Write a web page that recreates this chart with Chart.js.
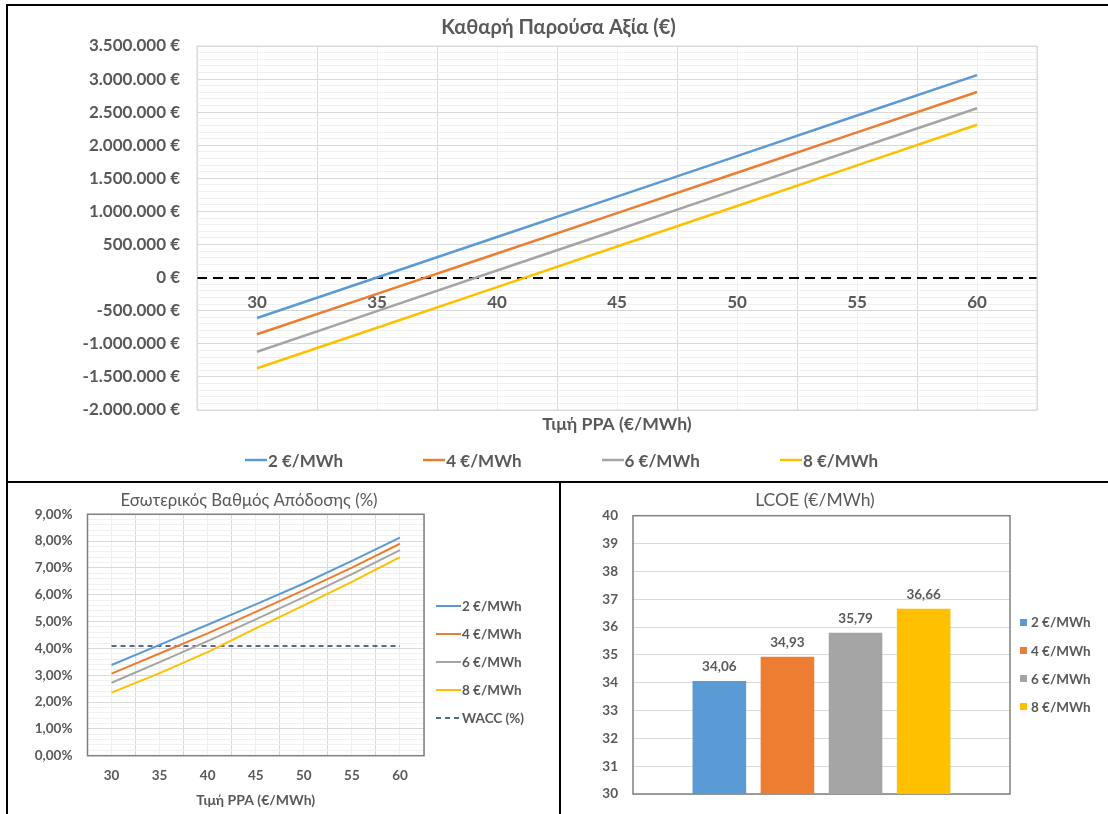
<!DOCTYPE html>
<html>
<head>
<meta charset="utf-8">
<script src="https://cdn.jsdelivr.net/npm/chart.js@4.4.1/dist/chart.umd.min.js"></script>
<style>
html,body{margin:0;padding:0;background:#fff;}
#wrap{position:relative;width:1108px;height:814px;overflow:hidden;background:#fff;font-family:Lato,'Noto Sans',sans-serif;color:#595959;}
canvas{position:absolute;}
.rule{position:absolute;background:#000;}
.li{position:absolute;display:flex;align-items:center;white-space:nowrap;font-weight:700;color:#595959;}
.li svg{display:block;flex:none;}
</style>
</head>
<body>
<div id="wrap">
  <canvas id="npv" width="1100" height="475" style="left:8px;top:6px"></canvas>
  <canvas id="irr" width="551" height="331" style="left:8px;top:483px"></canvas>
  <canvas id="lcoe" width="547" height="331" style="left:561px;top:483px"></canvas>
  <div class="rule" style="left:6px;top:4px;width:1102px;height:2px"></div>
  <div class="rule" style="left:6px;top:4px;width:2px;height:810px"></div>
  <div class="rule" style="left:6px;top:481px;width:1102px;height:2px"></div>
  <div class="rule" style="left:559px;top:481px;width:2px;height:333px"></div>
  <div id="npvLegend"></div>
  <div id="irrLegend"></div>
  <div id="lcoeLegend"></div>
</div>
<script>
// ---------- DATA ----------
const ppaPrices = [30, 35, 40, 45, 50, 55, 60];            // Τιμή PPA (€/MWh)
const seriesLabels = ['2 €/MWh', '4 €/MWh', '6 €/MWh', '8 €/MWh'];

// Καθαρή Παρούσα Αξία (€)
const npv2 = [-610000, 2000, 614000, 1225000, 1837000, 2449000, 3060000];
const npv4 = [-855000, -245000, 365000, 975000, 1585000, 2195000, 2805000];
const npv6 = [-1120000, -507000, 107000, 720000, 1333000, 1947000, 2560000];
const npv8 = [-1370000, -757000, -143000, 470000, 1083000, 1697000, 2310000];

// Εσωτερικός Βαθμός Απόδοσης (%)
const irr2 = [3.38, 4.13, 4.88, 5.64, 6.42, 7.26, 8.13];
const irr4 = [3.06, 3.81, 4.56, 5.36, 6.17, 7.01, 7.90];
const irr6 = [2.72, 3.49, 4.27, 5.08, 5.91, 6.77, 7.66];
const irr8 = [2.35, 3.08, 3.86, 4.75, 5.60, 6.48, 7.40];
const waccLabel = 'WACC (%)';
const wacc = [4.09, 4.09, 4.09, 4.09, 4.09, 4.09, 4.09];

// LCOE (€/MWh)
const lcoeValues = [34.06, 34.93, 35.79, 36.66];

// Axis ticks
const ppaTickLabels = [30, 35, 40, 45, 50, 55, 60];
const npvMin = -2000000, npvMax = 3500000, npvMajor = 500000, npvMinor = 100000;
const irrMin = 0, irrMax = 9, irrMajor = 1, irrMinor = 0.2;
const lcoeMin = 30, lcoeMax = 40, lcoeStep = 1;

// ---------- STYLE ----------
const FONT = "Lato, 'Noto Sans', sans-serif";
const GRAY = '#595959';
const COLORS = ['#5B9BD5', '#ED7D31', '#A5A5A5', '#FFC000'];
const WACC_COLOR = '#203864';
Chart.defaults.font.family = FONT;
Chart.defaults.color = GRAY;
Chart.defaults.animation = false;

function range(a, b, step) {
  const out = []; const n = Math.round((b - a) / step);
  for (let i = 0; i <= n; i++) out.push(+(a + i * step).toFixed(6));
  return out;
}
function isMult(v, m) { const q = v / m; return Math.abs(q - Math.round(q)) < 1e-6; }
function fmtEuro(v) {
  const s = Math.abs(v).toString().replace(/\B(?=(\d{3})+(?!\d))/g, '.');
  return (v < 0 ? '-' : '') + s + ' €';
}
function toPoints(vals) { return ppaPrices.map((p, i) => ({x: p, y: vals[i]})); }
const xMin = ppaPrices[0] - 2.5, xMax = ppaPrices[ppaPrices.length - 1] + 2.5;
const xTickValues = range(xMin, xMax, 2.5);
const xLabelCb = v => (ppaTickLabels.includes(v) ? String(v) : '');
const xGridColor = c => (c.tick && ppaTickLabels.includes(c.tick.value)) ? '#eeeeee' : '#d9d9d9';
// empty right-hand spacer axis (keeps the title centred like the original)
const spacer = w => ({position: 'right', afterFit: s => { s.width = w; },
  ticks: {display: false}, grid: {display: false, drawTicks: false}, border: {display: false}});

const plotBorder = {
  id: 'plotBorder',
  beforeDatasetsDraw(chart, args, opts) {
    const {left, top, right, bottom} = chart.chartArea;
    const ctx = chart.ctx;
    ctx.save(); ctx.strokeStyle = opts.color; ctx.lineWidth = opts.width;
    ctx.strokeRect(left, top, right - left, bottom - top); ctx.restore();
  }
};

const barLabels = {
  id: 'barLabels',
  afterDatasetsDraw(chart, args, opts) {
    const ctx = chart.ctx;
    ctx.save();
    ctx.font = `bold ${opts.size}px ${FONT}`;
    ctx.fillStyle = GRAY; ctx.textAlign = 'center'; ctx.textBaseline = 'middle';
    chart.data.datasets.forEach((ds, i) => {
      chart.getDatasetMeta(i).data.forEach((el, j) => {
        ctx.fillText(ds.data[j].toFixed(2).replace('.', ','), el.x, el.y - opts.offset);
      });
    });
    ctx.restore();
  }
};

function buildLegend(chart, containerId, cfg) {
  const container = document.getElementById(containerId);
  const items = chart.options.plugins.legend.labels.generateLabels(chart);
  items.forEach((it, i) => {
    const row = document.createElement('div');
    row.className = 'li';
    row.style.left = (cfg.x + i * cfg.dx) + 'px';
    row.style.top = (cfg.y + i * cfg.dy - cfg.h / 2) + 'px';
    row.style.height = cfg.h + 'px';
    row.style.fontSize = cfg.size + 'px';
    const svgNS = 'http://www.w3.org/2000/svg';
    const svg = document.createElementNS(svgNS, 'svg');
    svg.setAttribute('width', cfg.mw); svg.setAttribute('height', cfg.mh);
    svg.style.marginRight = cfg.gap + 'px';
    if (cfg.marker === 'box') {
      const r = document.createElementNS(svgNS, 'rect');
      r.setAttribute('x', 0); r.setAttribute('y', 0);
      r.setAttribute('width', cfg.mw); r.setAttribute('height', cfg.mh);
      r.setAttribute('fill', it.fillStyle);
      svg.appendChild(r);
    } else {
      const l = document.createElementNS(svgNS, 'line');
      l.setAttribute('x1', 0); l.setAttribute('x2', cfg.mw);
      l.setAttribute('y1', cfg.mh / 2); l.setAttribute('y2', cfg.mh / 2);
      l.setAttribute('stroke', it.strokeStyle);
      l.setAttribute('stroke-width', it.lineWidth);
      if (it.lineDash && it.lineDash.length) l.setAttribute('stroke-dasharray', it.lineDash.join(' '));
      svg.appendChild(l);
    }
    row.appendChild(svg);
    const span = document.createElement('span');
    span.textContent = it.text;
    row.appendChild(span);
    container.appendChild(row);
  });
}

// ---------- NPV CHART ----------
const npvSeries = [npv2, npv4, npv6, npv8];
const npvChart = new Chart(document.getElementById('npv'), {
  type: 'line',
  data: {
    datasets: npvSeries.map((vals, i) => ({
      label: seriesLabels[i], data: toPoints(vals),
      borderColor: COLORS[i], backgroundColor: COLORS[i],
      borderWidth: 2.5, pointRadius: 0, tension: 0
    }))
  },
  options: {
    responsive: false, animation: false,
    layout: {padding: {left: 72, right: 71, top: 0, bottom: 0}},
    plugins: {
      legend: {display: false}, tooltip: {enabled: false},
      title: {display: true, text: 'Καθαρή Παρούσα Αξία (€)', color: GRAY,
              font: {size: 20, weight: 'bold'}, padding: {top: 10, bottom: 6}},
      plotBorder: {color: '#d9d9d9', width: 1}
    },
    scales: {
      x: {
        type: 'linear', position: {y: 0}, min: xMin, max: xMax,
        afterBuildTicks: s => { s.ticks = xTickValues.map(v => ({value: v})); },
        ticks: {autoSkip: false, maxRotation: 0, padding: 15, color: GRAY,
                font: {size: 17, weight: 'bold'}, callback: xLabelCb},
        grid: {drawTicks: false, color: xGridColor},
        border: {display: false}
      },
      x2: {
        type: 'linear', position: 'bottom', min: xMin, max: xMax,
        afterFit: s => { s.height = 71; },
        ticks: {display: false}, grid: {display: false, drawTicks: false}, border: {display: false},
        title: {display: true, text: 'Τιμή PPA (€/MWh)', color: GRAY,
                font: {size: 17.6, weight: 'bold'}, padding: {top: 0, bottom: 46}}
      },
      y: {
        min: npvMin, max: npvMax,
        afterFit: s => { s.width = 117; },
        afterBuildTicks: s => { s.ticks = range(npvMin, npvMax, npvMinor).map(v => ({value: v})); },
        ticks: {autoSkip: false, padding: 17, color: GRAY, font: {size: 17, weight: 'bold'},
                callback: v => (isMult(v, npvMajor) ? fmtEuro(v) : '')},
        grid: {
          drawTicks: false,
          color: c => !c.tick ? '#d9d9d9' : (c.tick.value === 0 ? '#000000' : (isMult(c.tick.value, npvMajor) ? '#d9d9d9' : '#f0f0f0')),
          lineWidth: c => (c.tick && c.tick.value === 0) ? 2 : 1
        },
        border: {display: false, dash: c => (c.tick && c.tick.value === 0) ? [10, 6] : []}
      }
    }
  },
  plugins: [plotBorder]
});
buildLegend(npvChart, 'npvLegend', {x: 245, y: 460, dx: 178.3, dy: 0, h: 24, size: 17, marker: 'line', mw: 22, mh: 6, gap: 1});

// ---------- IRR CHART ----------
const irrSeries = [irr2, irr4, irr6, irr8];
const irrDatasets = irrSeries.map((vals, i) => ({
  label: seriesLabels[i], data: toPoints(vals),
  borderColor: COLORS[i], backgroundColor: COLORS[i],
  borderWidth: 2, pointRadius: 0, tension: 0
}));
irrDatasets.push({label: waccLabel, data: toPoints(wacc), borderColor: WACC_COLOR, backgroundColor: WACC_COLOR,
  borderWidth: 1.5, borderDash: [5, 4], pointRadius: 0});
const irrChart = new Chart(document.getElementById('irr'), {
  type: 'line',
  data: {datasets: irrDatasets},
  options: {
    responsive: false, animation: false,
    layout: {padding: {left: 0, right: 69, top: 0, bottom: 0}},
    plugins: {
      legend: {display: false}, tooltip: {enabled: false},
      title: {display: true, text: 'Εσωτερικός Βαθμός Απόδοσης (%)', color: GRAY,
              font: {size: 16.8, weight: 'normal'}, padding: {top: 7.6, bottom: 3.5}},
      plotBorder: {color: '#808080', width: 1.5}
    },
    scales: {
      x: {
        type: 'linear', position: 'bottom', min: xMin, max: xMax,
        afterFit: s => { s.height = 58.3; },
        afterBuildTicks: s => { s.ticks = xTickValues.map(v => ({value: v})); },
        ticks: {autoSkip: false, maxRotation: 0, padding: 12, color: GRAY,
                font: {size: 13.5, weight: 'bold'}, callback: xLabelCb},
        grid: {drawTicks: false, color: xGridColor},
        border: {display: false},
        title: {display: true, text: 'Τιμή PPA (€/MWh)', color: GRAY,
                font: {size: 14, weight: 'bold'}, padding: {top: 0, bottom: 4.9}}
      },
      y: {
        min: irrMin, max: irrMax,
        afterFit: s => { s.width = 79.5; },
        afterBuildTicks: s => { s.ticks = range(irrMin, irrMax, irrMinor).map(v => ({value: v})); },
        ticks: {autoSkip: false, padding: 15, color: GRAY, font: {size: 13.5, weight: 'bold'},
                callback: v => (isMult(v, irrMajor) ? v.toFixed(2).replace('.', ',') + '%' : '')},
        grid: {drawTicks: false,
               color: c => (c.tick && !isMult(c.tick.value, irrMajor)) ? '#f0f0f0' : '#d9d9d9'},
        border: {display: false}
      },
      yPad: spacer(66)
    }
  },
  plugins: [plotBorder]
});
buildLegend(irrChart, 'irrLegend', {x: 436, y: 606, dx: 0, dy: 28, h: 22, size: 13.5, marker: 'line', mw: 25, mh: 6, gap: 1});

// ---------- LCOE CHART ----------
const lcoeChart = new Chart(document.getElementById('lcoe'), {
  type: 'bar',
  data: {
    labels: [''],
    datasets: lcoeValues.map((v, i) => ({
      label: seriesLabels[i], data: [v], backgroundColor: COLORS[i], borderWidth: 0,
      categoryPercentage: 0.7226, barPercentage: 0.787
    }))
  },
  options: {
    responsive: false, animation: false,
    layout: {padding: {left: 0, right: 39, top: 0, bottom: 0}},
    plugins: {
      legend: {display: false}, tooltip: {enabled: false},
      title: {display: true, text: 'LCOE (€/MWh)', color: GRAY,
              font: {size: 17.5, weight: 'normal'}, padding: {top: 6.5, bottom: 5.2}},
      plotBorder: {color: '#808080', width: 1.5},
      barLabels: {size: 13.5, offset: 14.3}
    },
    scales: {
      x: {
        afterFit: s => { s.height = 20; },
        ticks: {display: false}, grid: {display: false, drawTicks: false}, border: {display: false}
      },
      y: {
        min: lcoeMin, max: lcoeMax,
        afterFit: s => { s.width = 72; s.paddingBottom = 8; s.paddingTop = 8; },
        ticks: {stepSize: lcoeStep, padding: 15, color: GRAY, font: {size: 13.5, weight: 'bold'}},
        grid: {drawTicks: false, color: '#d9d9d9'},
        border: {display: false}
      },
      yPad: spacer(59)
    }
  },
  plugins: [plotBorder, barLabels]
});
buildLegend(lcoeChart, 'lcoeLegend', {x: 1020, y: 622.3, dx: 0, dy: 28.2, h: 22, size: 13.5, marker: 'box', mw: 7, mh: 7, gap: 4});
</script>
</body>
</html>
